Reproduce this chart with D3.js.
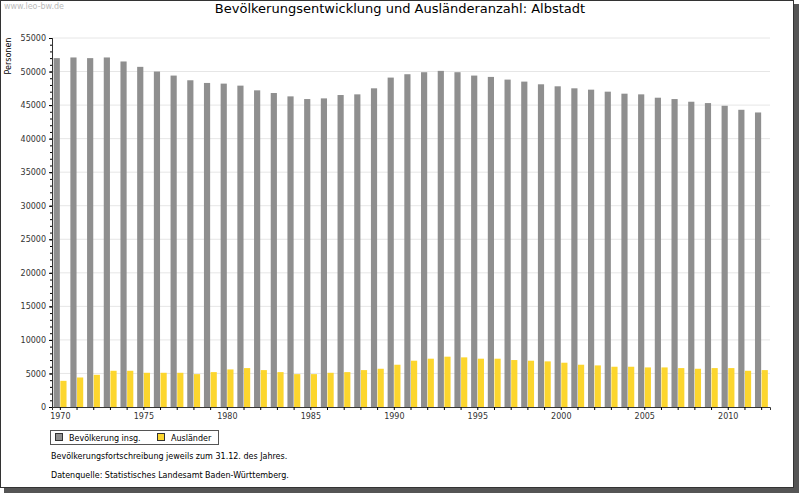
<!DOCTYPE html>
<html><head><meta charset="utf-8">
<script src="https://cdn.jsdelivr.net/npm/d3@7"></script>
<style>body{margin:0;background:#fff}text{font-family:"DejaVu Sans",sans-serif}</style>
</head><body><svg id="c" width="800" height="494"></svg>
<script>
const years=d3.range(1970,2013);
const population=[52000,52100,52000,52100,51500,50700,50000,49400,48700,48300,48200,47900,47200,46800,46300,45900,46000,46500,46600,47500,49100,49600,49900,50100,49900,49400,49200,48800,48500,48100,47800,47500,47300,47000,46700,46600,46100,45900,45500,45300,44900,44300,43900];
const foreigners=[3900,4400,4800,5400,5400,5100,5100,5100,4900,5200,5600,5800,5500,5200,4900,4900,5100,5200,5500,5700,6300,6900,7200,7500,7400,7200,7200,7000,6900,6800,6600,6300,6200,6000,6000,5900,5900,5800,5700,5800,5800,5400,5500];
const yTicks=d3.range(0,55001,5000);
const xTickYears=[1970,1975,1980,1985,1990,1995,2000,2005,2010];
const svg=d3.select("#c");
// frame with shadow
svg.append("rect").attr("x",4).attr("y",4).attr("width",795).attr("height",489).attr("fill","#555");
svg.append("rect").attr("x",0.5).attr("y",0.5).attr("width",793).attr("height",487).attr("fill","#fff").attr("stroke","#333");
svg.append("text").attr("x",4).attr("y",9).attr("font-size",8).attr("fill","#bbb").text("www.leo-bw.de");
svg.append("text").attr("x",400).attr("y",13).attr("text-anchor","middle").attr("font-size",13).text("Bevölkerungsentwicklung und Ausländeranzahl: Albstadt");
const L=52,R=770,T=38,B=407;
const x=d3.scaleBand().domain(years).range([L,R]).paddingInner(0.2).paddingOuter(0.1);
const y=d3.scaleLinear().domain([0,55000]).range([B,T]);
const g=svg.append("g");
g.selectAll(".gl").data(yTicks.slice(1)).join("line").attr("x1",L).attr("x2",R).attr("y1",d=>y(d)).attr("y2",d=>y(d)).attr("stroke","#e6e6e6");
const bw=x.bandwidth()/2;
g.selectAll(".p").data(years).join("rect").attr("x",d=>x(d)).attr("width",bw-0.5).attr("y",(d,i)=>y(population[i])).attr("height",(d,i)=>B-y(population[i])).attr("fill","#8f8f8f");
g.selectAll(".f").data(years).join("rect").attr("x",d=>x(d)+bw).attr("width",bw-0.5).attr("y",(d,i)=>y(foreigners[i])).attr("height",(d,i)=>B-y(foreigners[i])).attr("fill","#fcd62e");
const ya=svg.append("g").attr("transform",`translate(${L},0)`).call(d3.axisLeft(y).tickValues(yTicks).tickSize(3).tickFormat(d3.format("d")));
const yminor=svg.append("g").attr("transform",`translate(${L},0)`).call(d3.axisLeft(y).tickValues(d3.range(0,55001,1000)).tickSize(2).tickFormat(""));
const xa=svg.append("g").attr("transform",`translate(0,${B})`).call(d3.axisBottom(x).tickValues(years).tickSize(3).tickFormat(d=>xTickYears.includes(d)?d:""));
svg.selectAll(".domain").attr("stroke","#333");
svg.selectAll(".tick text").attr("font-size",8).attr("fill","#333");
svg.append("text").attr("transform","translate(11,56) rotate(-90)").attr("text-anchor","middle").attr("font-size",8).text("Personen");
// legend
const lg=svg.append("g");
lg.append("rect").attr("x",50.5).attr("y",430.5).attr("width",168).attr("height",14).attr("fill","#fff").attr("stroke","#555");
lg.append("rect").attr("x",55.5).attr("y",433.5).attr("width",7).attr("height",7).attr("fill","#8f8f8f").attr("stroke","#333");
lg.append("text").attr("x",69).attr("y",441).attr("font-size",8).text("Bevölkerung insg.");
lg.append("rect").attr("x",157.5).attr("y",433.5).attr("width",7).attr("height",7).attr("fill","#fcd62e").attr("stroke","#333");
lg.append("text").attr("x",171).attr("y",441).attr("font-size",8).text("Ausländer");
svg.append("text").attr("x",51).attr("y",459).attr("font-size",8).text("Bevölkerungsfortschreibung jeweils zum 31.12. des Jahres.");
svg.append("text").attr("x",51).attr("y",478).attr("font-size",8).text("Datenquelle: Statistisches Landesamt Baden-Württemberg.");
</script></body></html>
